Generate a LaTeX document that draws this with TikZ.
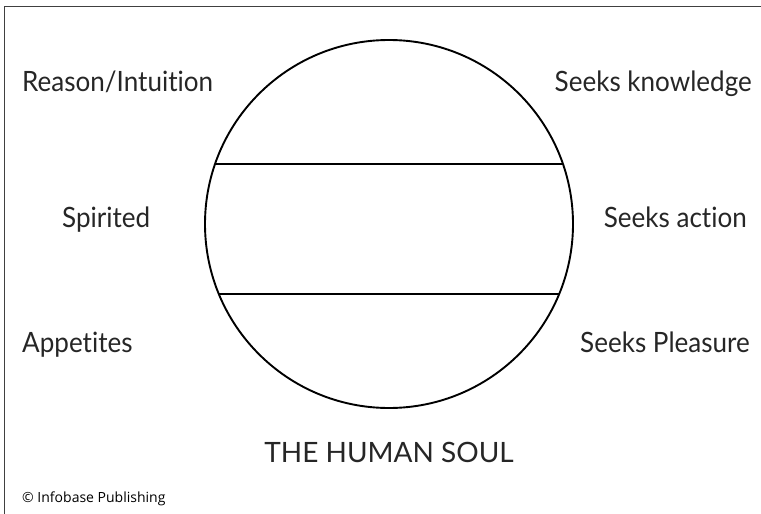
\documentclass[tikz,border=0pt]{standalone}
\usepackage{fontspec}
\usepackage{tikz}
\usetikzlibrary{positioning, calc}

\newfontfamily\labelfont[Ligatures=NoCommon, FakeStretch=0.93]{Lato}
\newfontfamily\titlefont{Lato}
\newfontfamily\creditfont{Open Sans}

\tikzset{
  lbl/.style={font=\labelfont\fontsize{28}{30}\selectfont, inner sep=0pt, text=black!85},
  ttl/.style={font=\titlefont\fontsize{28}{30}\selectfont, inner sep=0pt, text=black!85},
  credit/.style={font=\creditfont\fontsize{14}{16}\selectfont, inner sep=0pt},
  soulline/.style={line width=1.9pt}
}

\begin{document}
\begin{tikzpicture}[x=1pt, y=-1pt]

\useasboundingbox (0,0) rectangle (761,514);

% Frame (cut at right and bottom)
\draw[line width=1pt, black!75] (4,514) -- (4,6) -- (761,6);

% The soul
\node[circle, draw, soulline, minimum size=368pt, inner sep=0pt, outer sep=0pt] (soul) at (389,224) {};
\coordinate (upl) at ($(soul.center)+(-174,-60)$);
\coordinate (upr) at ($(soul.center)+(174,-60)$);
\coordinate (lol) at ($(soul.center)+(-170.2,70)$);
\coordinate (lor) at ($(soul.center)+(170.2,70)$);
\draw[soulline] (upl) -- (upr);
\draw[soulline] (lol) -- (lor);

% Left column
\node[lbl, anchor=base west] (reason)   at (22,91)  {Reason/Intuition};
\node[lbl, anchor=base west] (spirited) at (62,227) {Spirited};
\node[lbl, anchor=base west] (appetite) at (22,352) {Appetites};

% Right column
\node[lbl, anchor=base east] (knowledge) at (752,91)  {Seeks knowledge};
\node[lbl, anchor=base east] (action)    at (747,227) {Seeks action};
\node[lbl, anchor=base east] (pleasure)  at (750,352) {Seeks Pleasure};

% Title
\node[ttl, anchor=base] (title) at (389,462) {THE HUMAN SOUL};

% Credit
\node[credit, anchor=base west] (infobase) at (22,502) {© Infobase Publishing};

\end{tikzpicture}
\end{document}
